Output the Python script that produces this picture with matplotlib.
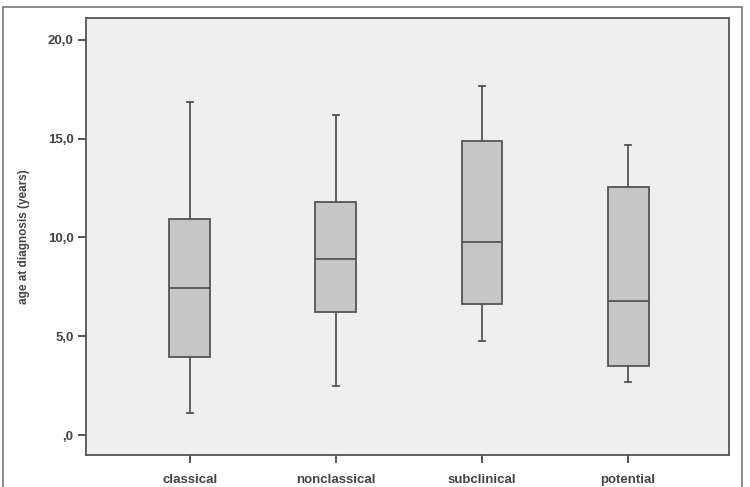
import matplotlib
matplotlib.use('Agg')
import matplotlib.pyplot as plt
from matplotlib.patches import Rectangle

groups = ['classical', 'nonclassical', 'subclinical', 'potential']
whis_lo = [1.1, 2.5, 4.75, 2.7]
q1 = [3.95, 6.25, 6.65, 3.5]
median = [7.45, 8.9, 9.75, 6.8]
q3 = [10.95, 11.8, 14.9, 12.55]
whis_hi = [16.85, 16.2, 17.65, 14.7]
yticks = [0, 5, 10, 15, 20]
ytick_labels = [',0', '5,0', '10,0', '15,0', '20,0']

stats = []
for i, g in enumerate(groups):
    stats.append({'label': g, 'whislo': whis_lo[i], 'q1': q1[i], 'med': median[i],
                  'q3': q3[i], 'whishi': whis_hi[i], 'fliers': []})

fig = plt.figure(figsize=(7.5, 4.87), dpi=100)
ax = fig.add_axes([86/750, 1 - 455/487, 643/750, 437/487])
ax.set_facecolor('#efefef')

edge = '#555555'
ax.bxp(stats, positions=[1, 2, 3, 4], widths=0.28, patch_artist=True, showfliers=False,
       boxprops=dict(facecolor='#c6c6c6', edgecolor=edge, linewidth=1.3),
       medianprops=dict(color=edge, linewidth=1.3),
       whiskerprops=dict(color=edge, linewidth=1.3),
       capprops=dict(color=edge, linewidth=1.3),
       capwidths=0.04)

ax.set_xlim(0.29, 4.69)
ax.set_ylim(-1.0, 21.1)
ax.set_yticks(yticks)
ax.set_yticklabels(ytick_labels)
ax.set_xticks([1, 2, 3, 4])
ax.set_xticklabels(groups)
for lab in ax.get_xticklabels() + ax.get_yticklabels():
    lab.set_family(['Liberation Sans', 'DejaVu Sans'])
    lab.set_fontweight('bold')
    lab.set_fontsize(9.5)
    lab.set_color('#444444')
ax.tick_params(axis='both', length=6, width=1.3, color='#444444', pad=3)
ax.tick_params(axis='x', pad=8)
for s in ax.spines.values():
    s.set_color('#555555')
    s.set_linewidth(1.3)
ax.set_ylabel('age at diagnosis (years)', fontsize=8.5, fontweight='bold', color='#444444',
              family=['Liberation Sans Narrow', 'Liberation Sans', 'DejaVu Sans'])
ax.yaxis.set_label_coords(-56/643, 0.5)

fig.patches.append(Rectangle((3/750, -0.01), 739/750, 1 - 7/487 + 0.01, transform=fig.transFigure,
                             fill=False, edgecolor='#777777', linewidth=1.2, clip_on=False))

fig.savefig('out.png', dpi=100)
